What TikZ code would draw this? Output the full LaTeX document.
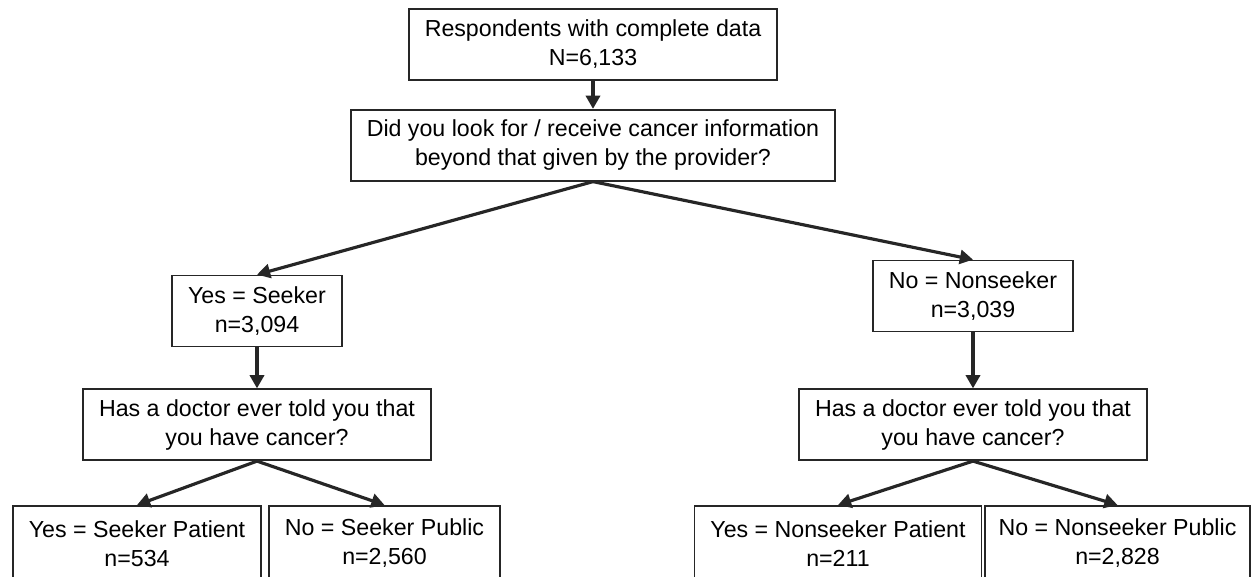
\documentclass[tikz,border=0pt]{standalone}
\usepackage{fontspec}
\setmainfont{Liberation Sans}
\usetikzlibrary{positioning, arrows.meta}

\tikzset{
  box/.style={draw=black!85, line width=1pt, align=center, minimum height=1.42cm,
    inner xsep=0.32cm, font=\fontsize{13.2pt}{16.5pt}\selectfont},
  flow/.style={draw=black!85, line width=1.8pt, -{Triangle[length=7.5pt, width=8pt]}},
}

\begin{document}
\begin{tikzpicture}[x=0.02cm, y=-0.02cm]
        \useasboundingbox (0,0) rectangle (1252,576);
        \clip (0,0) rectangle (1252,576);

        \node[box] (all) at (593,44.5) {Respondents with complete data\\N=6,133};
        \node[box, below=0.56cm of all] (ask) {Did you look for / receive cancer information\\beyond that given by the provider?};
        \node[box] (seek) at (257,311) {Yes = Seeker\\n=3,094};
        \node[box] (nonseek) at (973,296) {No = Nonseeker\\n=3,039};
        \node[box, below=0.82cm of seek] (docL) {Has a doctor ever told you that\\you have cancer?};
        \node[box, below=1.12cm of nonseek] (docR) {Has a doctor ever told you that\\you have cancer?};

        % bottom row, cut off by the page edge
        \node[box, anchor=north, minimum height=1.5cm] (sp) at (137,505) {Yes = Seeker Patient\\n=534};
        \node[box, anchor=north, minimum height=1.5cm] (sq) at (384.5,505) {No = Seeker Public\\n=2,560};
        \node[box, anchor=north, minimum height=1.5cm] (np) at (838,505) {Yes = Nonseeker Patient\\n=211};
        \node[box, anchor=north, minimum height=1.5cm, inner xsep=0.27cm] (nq) at (1117.5,505) {No = Nonseeker Public\\n=2,828};

        \draw[flow] (all) -- (ask);
        \draw[flow] (ask.south) -- (seek.north);
        \draw[flow] (ask.south) -- (nonseek.north);
        \draw[flow] (seek) -- (docL);
        \draw[flow] (nonseek) -- (docR);
        \draw[flow] (docL.south) -- (sp.north);
        \draw[flow] (docL.south) -- (sq.north);
        \draw[flow] (docR.south) -- (np.north);
        \draw[flow] (docR.south) -- (nq.north);
      \end{tikzpicture}
\end{document}
